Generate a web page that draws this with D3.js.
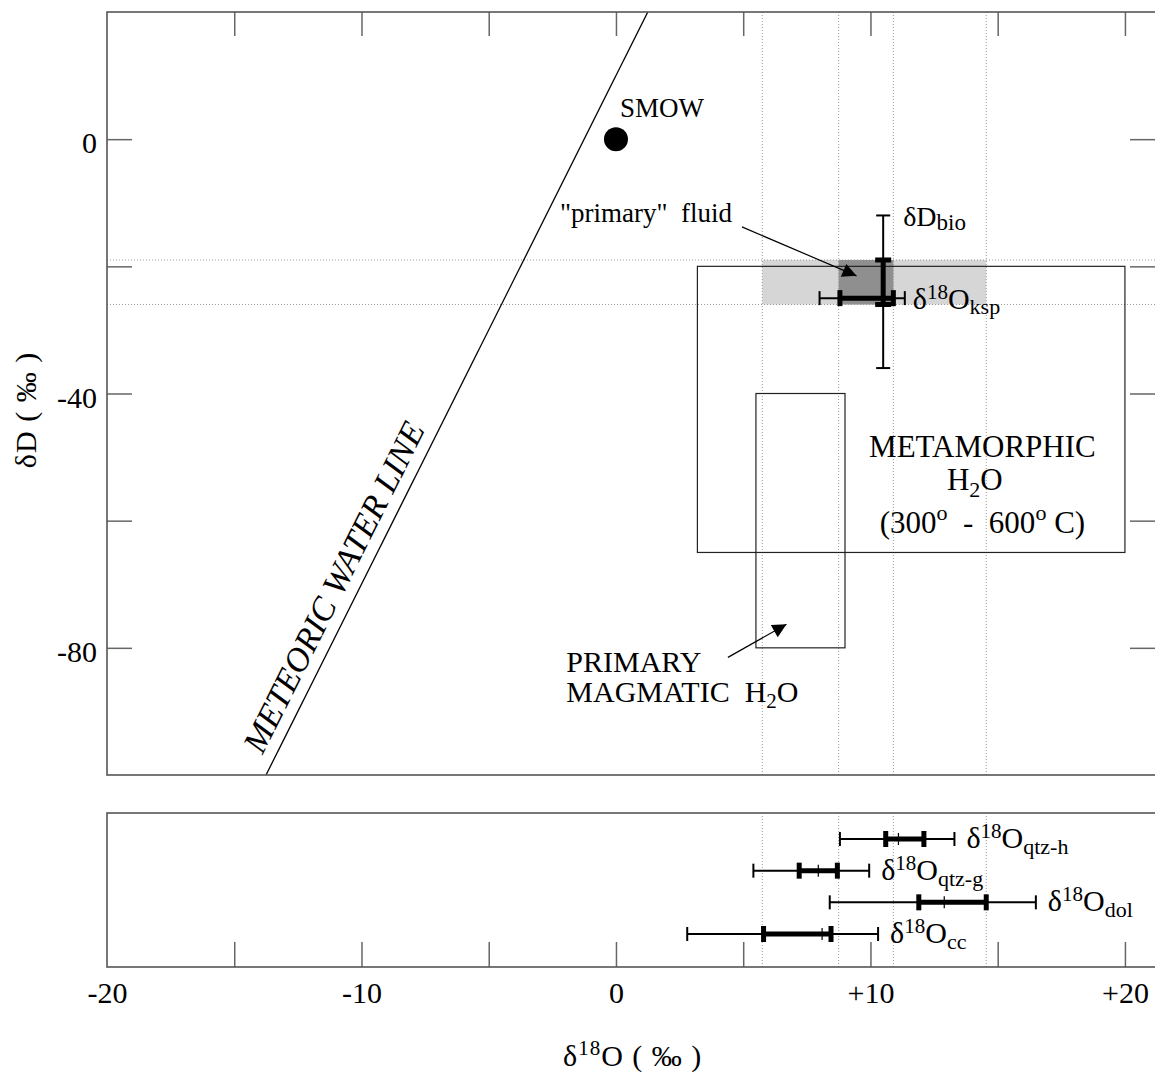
<!DOCTYPE html>
<html>
<head>
<meta charset="utf-8">
<script src="https://cdn.jsdelivr.net/npm/d3@7"></script>
<style>
  html, body { margin: 0; padding: 0; background: #fff; }
  svg { display: block; }
  text { font-family: "Liberation Serif", "DejaVu Serif", serif; fill: #000; }
</style>
</head>
<body>
<svg id="chart" width="1155" height="1073"></svg>
<script>
// ---------------- DATA ----------------
const xTickValues = [-20, -15, -10, -5, 0, 5, 10, 15, 20];
const xTickLabels = ["-20", "", "-10", "", "0", "", "+10", "", "+20"];
const yTickValues = [0, -20, -40, -60, -80];
const yTickLabels = ["0", "", "-40", "", "-80"];

// meteoric water line: dD = 8 * d18O + 10
const mwlSlope = 8;
const mwlIntercept = 10;

const smow = [0, 0];

// boxes [x0, x1, y0, y1]
const metamorphicBox = [3.2, 20.0, -65, -20];
const magmaticBox = [5.5, 9.0, -80, -40];
const lightBand = [5.75, 14.55, -26, -19];
const darkBand = [8.75, 10.9, -26, -19];

// dotted reference lines
const refD18O = [5.75, 8.75, 10.9, 14.55];
const refDD = [-19, -26];

// top-panel error bars
const dDbio = { x: 10.5, thinLo: -36, thinHi: -12, thickLo: -26, thickHi: -19 };
const d18Oksp = { y: -25, thinLo: 8.0, thinHi: 11.35, thickLo: 8.8, thickHi: 10.9 };

// bottom-panel samples
const samples = ["qtz-h", "qtz-g", "dol", "cc"];
const thinLo  = [8.8, 5.4, 8.4, 2.8];
const thinHi  = [13.3, 9.95, 16.5, 10.3];
const thickLo = [10.6, 7.2, 11.9, 5.8];
const thickHi = [12.1, 8.7, 14.55, 8.45];
const midVal  = [11.1, 7.95, 12.9, 8.1];

// ---------------- LAYOUT ----------------
const svg = d3.select("#chart");
const L = 107, R = 1157, T1 = 12, B1 = 775, T2 = 813, B2 = 967;
const FONT = "'Liberation Serif', 'DejaVu Serif', serif";

const x = d3.scaleLinear().domain([-20, 21.26]).range([L, R]);
const y = d3.scaleLinear().domain([-100, 20]).range([B1, T1]);
const yb = d3.scalePoint().domain(samples).range([839, 934]);

const frameColor = "#555";
const tickColor = "#666";

const defs = svg.append("defs");
defs.append("clipPath").attr("id", "clipTop")
  .append("rect").attr("x", L).attr("y", T1).attr("width", R - L).attr("height", B1 - T1);
defs.append("marker")
  .attr("id", "arrow").attr("viewBox", "0 0 10 10")
  .attr("refX", 10).attr("refY", 5)
  .attr("markerWidth", 20).attr("markerHeight", 14)
  .attr("markerUnits", "userSpaceOnUse")
  .attr("orient", "auto")
  .append("path").attr("d", "M0,0 L10,5 L0,10 Z").attr("fill", "#000");

const gTop = svg.append("g");
const gBot = svg.append("g");

// shaded bands
gTop.append("rect")
  .attr("x", x(lightBand[0])).attr("width", x(lightBand[1]) - x(lightBand[0]))
  .attr("y", y(lightBand[3])).attr("height", y(lightBand[2]) - y(lightBand[3]))
  .attr("fill", "#d6d6d6");
gTop.append("rect")
  .attr("x", x(darkBand[0])).attr("width", x(darkBand[1]) - x(darkBand[0]))
  .attr("y", y(darkBand[3])).attr("height", y(darkBand[2]) - y(darkBand[3]))
  .attr("fill", "#8f8f8f");

// dotted reference lines
refD18O.forEach(v => {
  gTop.append("line").attr("x1", x(v)).attr("x2", x(v)).attr("y1", T1).attr("y2", B1)
    .attr("stroke", "#999").attr("stroke-width", 1).attr("stroke-dasharray", "1,2");
  gBot.append("line").attr("x1", x(v)).attr("x2", x(v)).attr("y1", T2).attr("y2", B2)
    .attr("stroke", "#999").attr("stroke-width", 1).attr("stroke-dasharray", "1,2");
});
refDD.forEach(v => {
  gTop.append("line").attr("x1", L).attr("x2", R).attr("y1", y(v)).attr("y2", y(v))
    .attr("stroke", "#999").attr("stroke-width", 1).attr("stroke-dasharray", "1,2");
});

// boxes
[metamorphicBox, magmaticBox].forEach(b => {
  gTop.append("rect")
    .attr("x", x(b[0])).attr("width", x(b[1]) - x(b[0]))
    .attr("y", y(b[3])).attr("height", y(b[2]) - y(b[3]))
    .attr("fill", "none").attr("stroke", "#222").attr("stroke-width", 1.2);
});

// meteoric water line
const mwlX0 = (-100 - mwlIntercept) / mwlSlope, mwlX1 = (20 - mwlIntercept) / mwlSlope;
gTop.append("line")
  .attr("clip-path", "url(#clipTop)")
  .attr("x1", x(mwlX0)).attr("y1", y(-100)).attr("x2", x(mwlX1)).attr("y2", y(20))
  .attr("stroke", "#000").attr("stroke-width", 1.3);

// meteoric label (along the line)
{
  const px0 = x(mwlX0), py0 = y(-100), px1 = x(mwlX1), py1 = y(20);
  const len = Math.hypot(px1 - px0, py1 - py0);
  const ux = (px1 - px0) / len, uy = (py1 - py0) / len;
  const along = 16, off = 12;
  const ang = Math.atan2(uy, ux) * 180 / Math.PI;
  gTop.append("text")
    .attr("transform", `translate(${px0 + ux * along - Math.abs(uy) * off},${py0 + uy * along - Math.abs(ux) * off}) rotate(${ang})`)
    .attr("font-size", 34).attr("font-style", "italic")
    .text("METEORIC WATER LINE");
}

// SMOW
gTop.append("circle").attr("cx", x(smow[0])).attr("cy", y(smow[1])).attr("r", 12).attr("fill", "#000");
gTop.append("text").attr("x", x(smow[0]) + 4).attr("y", y(smow[1]) - 22).attr("font-size", 27).text("SMOW");

// primary fluid label + arrow
gTop.append("text").attr("x", x(-2.2)).attr("y", y(-13.1)).attr("font-size", 27)
  .attr("xml:space", "preserve").text("\"primary\"  fluid");
gTop.append("line").attr("x1", x(4.95)).attr("y1", y(-13.8)).attr("x2", x(9.45)).attr("y2", y(-21.5))
  .attr("stroke", "#000").attr("stroke-width", 1.2).attr("marker-end", "url(#arrow)");

// magmatic arrow
gTop.append("line").attr("x1", x(4.4)).attr("y1", y(-81.5)).attr("x2", x(6.7)).attr("y2", y(-76.3))
  .attr("stroke", "#000").attr("stroke-width", 1.2).attr("marker-end", "url(#arrow)");

function rich(g, px, py, parts, anchor) {
  const t = g.append("text").attr("x", px).attr("y", py).attr("xml:space", "preserve");
  if (anchor) t.attr("text-anchor", anchor);
  let cur = 0;
  parts.forEach(p => {
    const dy = (p.dy || 0) - cur;
    t.append("tspan").attr("dy", dy).attr("font-size", p.s).text(p.t);
    cur = p.dy || 0;
  });
  return t;
}

rich(gTop, x(-1.95), y(-83.8), [{ t: "PRIMARY", s: 30 }]);
rich(gTop, x(-1.95), y(-88.5), [{ t: "MAGMATIC  H", s: 30 }, { t: "2", s: 21, dy: 6 }, { t: "O", s: 30 }]);

// metamorphic label
rich(gTop, x(14.4), y(-50.0), [{ t: "METAMORPHIC", s: 31 }], "middle");
rich(gTop, x(14.1), y(-55.2), [{ t: "H", s: 31 }, { t: "2", s: 22, dy: 7 }, { t: "O", s: 31 }], "middle");
rich(gTop, x(14.4), y(-61.9), [
  { t: "(300", s: 31 }, { t: "o", s: 22, dy: -13 }, { t: "  -  600", s: 31 },
  { t: "o", s: 22, dy: -13 }, { t: " C)", s: 31 }], "middle");

// error bars helper
function hbar(g, py, lo, hi, tlo, thi, mid) {
  g.append("line").attr("x1", x(lo)).attr("x2", x(hi)).attr("y1", py).attr("y2", py)
    .attr("stroke", "#000").attr("stroke-width", 2);
  [lo, hi].forEach(v => g.append("line").attr("x1", x(v)).attr("x2", x(v))
    .attr("y1", py - 7).attr("y2", py + 7).attr("stroke", "#000").attr("stroke-width", 2));
  g.append("line").attr("x1", x(tlo)).attr("x2", x(thi)).attr("y1", py).attr("y2", py)
    .attr("stroke", "#000").attr("stroke-width", 5);
  [tlo, thi].forEach(v => g.append("rect").attr("x", x(v) - 2.5).attr("width", 5)
    .attr("y", py - 8).attr("height", 16).attr("fill", "#000"));
  if (mid !== undefined) g.append("line").attr("x1", x(mid)).attr("x2", x(mid))
    .attr("y1", py - 6).attr("y2", py + 6).attr("stroke", "#000").attr("stroke-width", 1.2);
}

// dD bio vertical bar
{
  const px = x(dDbio.x);
  gTop.append("line").attr("x1", px).attr("x2", px).attr("y1", y(dDbio.thinLo)).attr("y2", y(dDbio.thinHi))
    .attr("stroke", "#000").attr("stroke-width", 2);
  [dDbio.thinLo, dDbio.thinHi].forEach(v => gTop.append("line").attr("x1", px - 7).attr("x2", px + 7)
    .attr("y1", y(v)).attr("y2", y(v)).attr("stroke", "#000").attr("stroke-width", 2));
  gTop.append("line").attr("x1", px).attr("x2", px).attr("y1", y(dDbio.thickLo)).attr("y2", y(dDbio.thickHi))
    .attr("stroke", "#000").attr("stroke-width", 5);
  [dDbio.thickLo, dDbio.thickHi].forEach(v => gTop.append("rect").attr("x", px - 8).attr("width", 16)
    .attr("y", y(v) - 2.5).attr("height", 5).attr("fill", "#000"));
}
hbar(gTop, y(d18Oksp.y), d18Oksp.thinLo, d18Oksp.thinHi, d18Oksp.thickLo, d18Oksp.thickHi);

rich(gTop, x(dDbio.x) + 20, y(-13.7), [{ t: "δD", s: 28 }, { t: "bio", s: 23, dy: 4 }]);
rich(gTop, x(d18Oksp.thinHi) + 8, y(-26.7), [
  { t: "δ", s: 30 }, { t: "18", s: 21, dy: -10 }, { t: "O", s: 30 }, { t: "ksp", s: 22, dy: 5 }]);

// bottom panel error bars + labels
samples.forEach((s, i) => {
  const py = yb(s);
  hbar(gBot, py, thinLo[i], thinHi[i], thickLo[i], thickHi[i], midVal[i]);
  rich(gBot, x(thinHi[i]) + 12, py + 9, [
    { t: "δ", s: 30 }, { t: "18", s: 21, dy: -10 }, { t: "O", s: 30 }, { t: s, s: 22, dy: 6 }]);
});

// ---------------- AXES ----------------
function styleAxis(g) {
  g.attr("font-family", FONT);
  g.select(".domain").remove();
  g.selectAll(".tick line").attr("stroke", tickColor).attr("stroke-width", 1.5);
  g.selectAll(".tick text").attr("font-family", FONT).attr("font-size", 30).attr("fill", "#000");
}

svg.append("g").attr("transform", `translate(${L},0)`)
  .call(d3.axisLeft(y).tickValues(yTickValues)
    .tickFormat((d, i) => yTickLabels[i]).tickSizeInner(-25).tickSizeOuter(0).tickPadding(10))
  .call(styleAxis)
  .call(g => g.selectAll(".tick text").attr("dy", "0.45em"));
svg.append("g").attr("transform", `translate(${R},0)`)
  .call(d3.axisRight(y).tickValues(yTickValues).tickFormat(() => "").tickSizeInner(-27).tickSizeOuter(0))
  .call(styleAxis);
svg.append("g").attr("transform", `translate(0,${T1})`)
  .call(d3.axisTop(x).tickValues(xTickValues.slice(1)).tickFormat(() => "").tickSizeInner(-24).tickSizeOuter(0))
  .call(styleAxis);
svg.append("g").attr("transform", `translate(0,${B2})`)
  .call(d3.axisBottom(x).tickValues(xTickValues)
    .tickFormat((d, i) => xTickLabels[i]).tickSizeInner(-25).tickSizeOuter(0).tickPadding(15))
  .call(styleAxis)
  .call(g => g.selectAll(".tick line").filter(d => d === -20).remove());

// frames
[[T1, B1], [T2, B2]].forEach(([a, b]) => {
  svg.append("rect").attr("x", L).attr("y", a).attr("width", R - L).attr("height", b - a)
    .attr("fill", "none").attr("stroke", frameColor).attr("stroke-width", 1.6);
});

// axis titles
rich(svg, 563, 1066, [{ t: "δ", s: 30 }, { t: "18", s: 21, dy: -11 }, { t: "O ( ‰ )", s: 30 }])
  .attr("letter-spacing", 1);
svg.append("text").attr("transform", "translate(36,410) rotate(-90)")
  .attr("text-anchor", "middle").attr("font-size", 30).attr("letter-spacing", 1)
  .attr("xml:space", "preserve").text("δD ( ‰ )");
</script>
</body>
</html>
